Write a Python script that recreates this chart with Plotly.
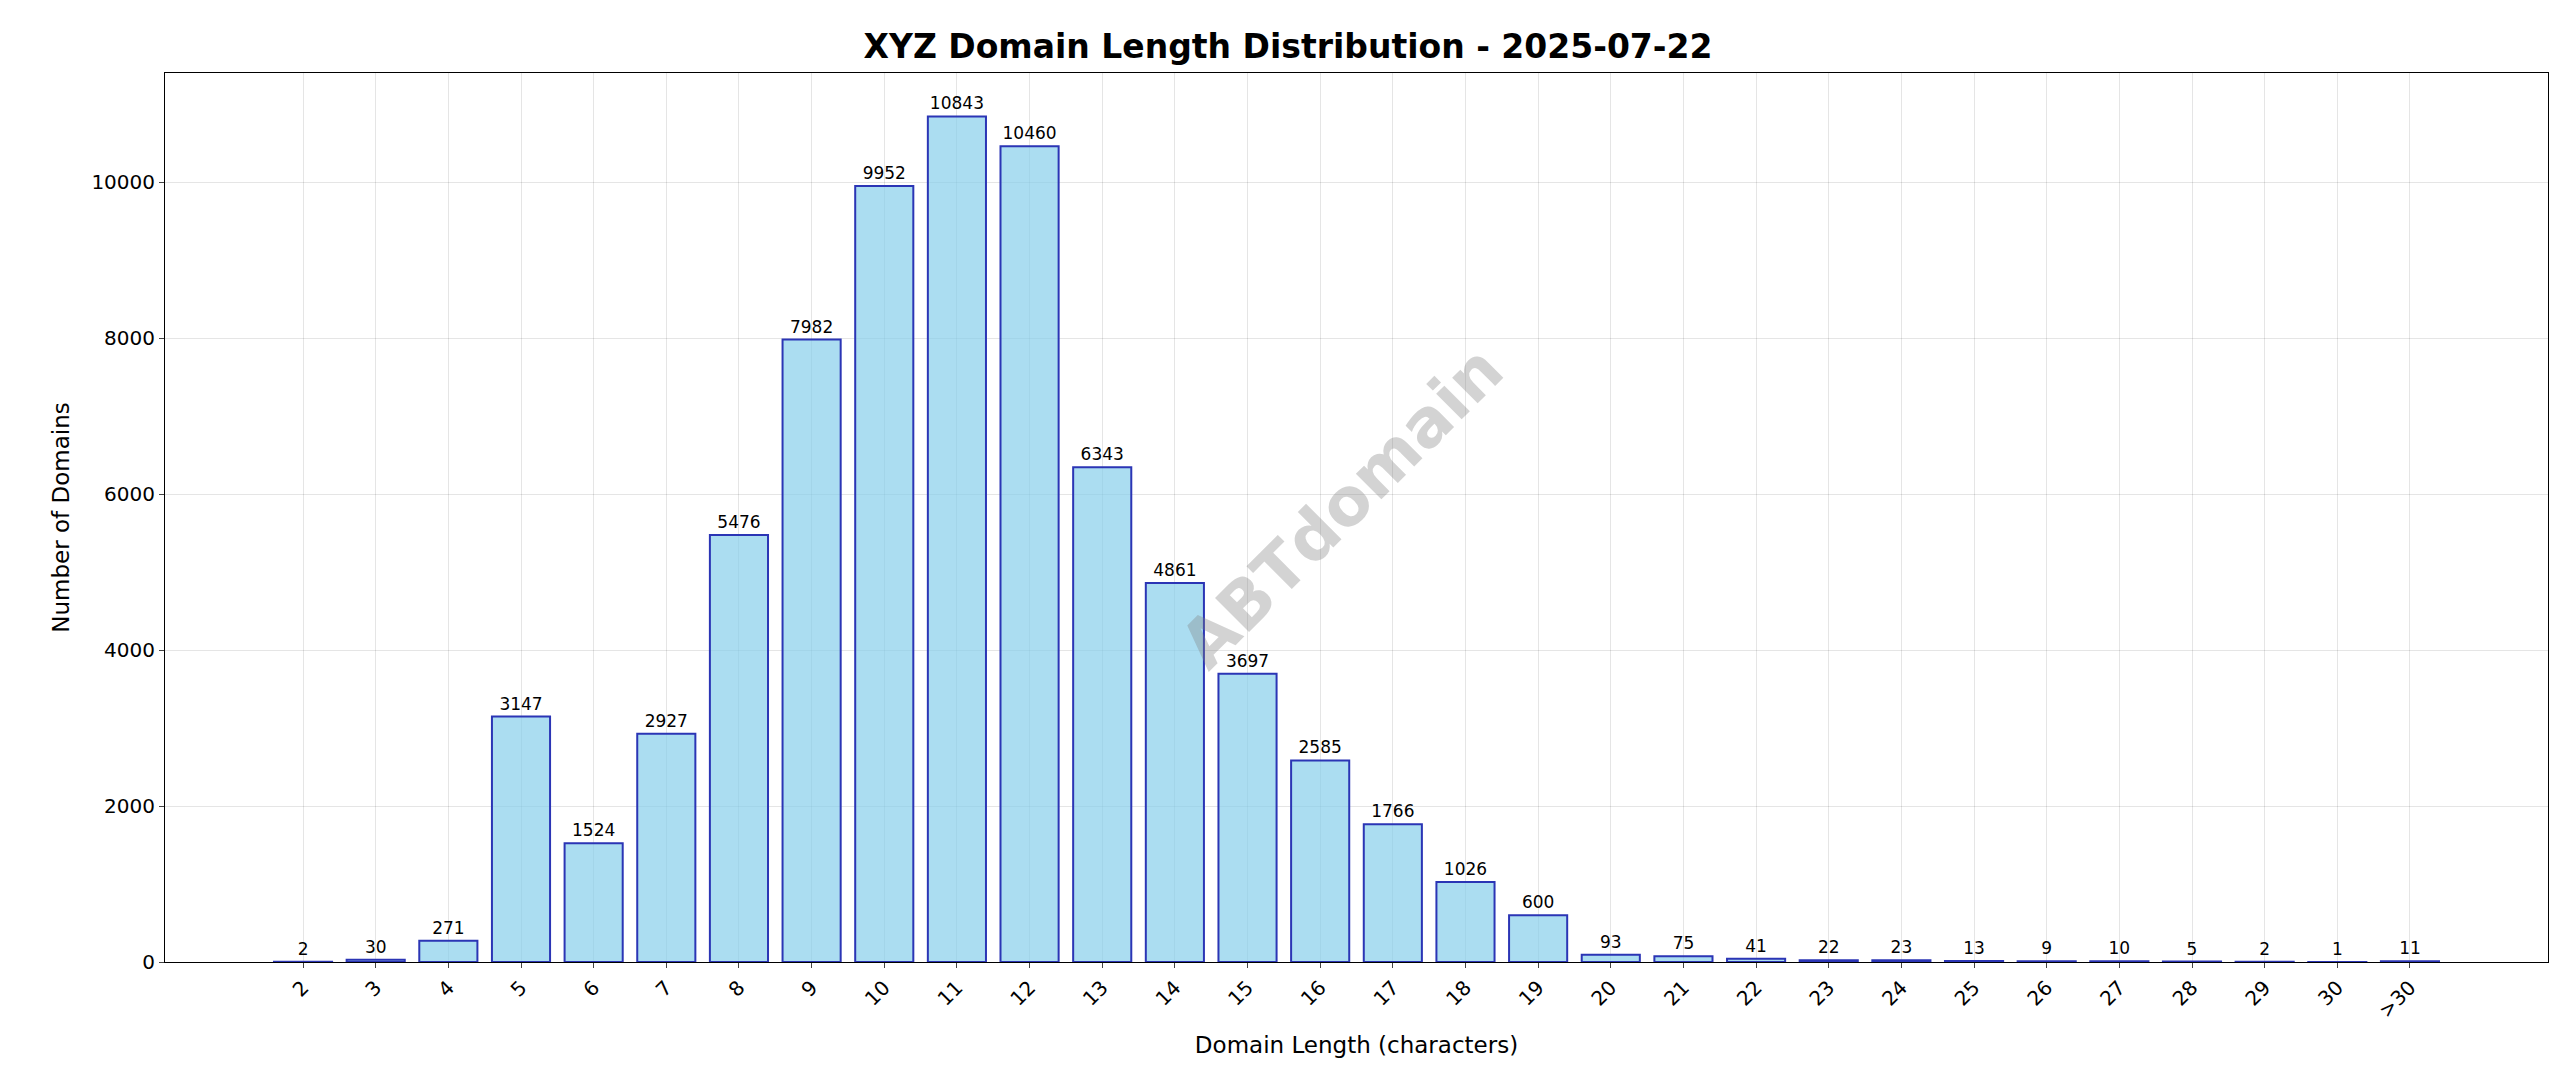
import plotly.graph_objects as go

categories = [str(i) for i in range(2, 31)] + [">30"]
counts = [2, 30, 271, 3147, 1524, 2927, 5476, 7982, 9952, 10843, 10460, 6343,
          4861, 3697, 2585, 1766, 1026, 600, 93, 75, 41, 22, 23, 13, 9, 10, 5, 2, 1, 11]

fig = go.Figure(go.Bar(
    x=categories, y=counts, width=0.8,
    marker=dict(color="rgba(135,206,235,0.7)", line=dict(color="#2b35b5", width=2)),
    text=[str(c) for c in counts], textposition="outside", constraintext="none",
    textfont=dict(size=17, color="black"), cliponaxis=False,
))

fig.add_annotation(text="<b>ABTdomain</b>", x=0.5, y=0.5, xref="paper", yref="paper",
                   showarrow=False, textangle=-45,
                   font=dict(size=66, color="rgba(128,128,128,0.35)", family="DejaVu Sans"),
                   xshift=-15, yshift=10)

fig.update_layout(
    width=2560, height=1087,
    paper_bgcolor="white", plot_bgcolor="white",
    font=dict(family="DejaVu Sans", size=20, color="black"),
    title=dict(text="<b>XYZ Domain Length Distribution - 2025-07-22</b>",
               x=0.5, xanchor="center", y=0.975, font=dict(size=33)),
    margin=dict(l=157, r=20, t=65, b=133),
    showlegend=False,
)
fig.update_xaxes(range=[-1.9, 30.9], tickangle=-45, showline=True, linecolor="black",
                 mirror=True, ticks="outside", showgrid=True, gridcolor="rgba(0,0,0,0.1)",
                 title=dict(text="Domain Length (characters)", font=dict(size=23)))
fig.update_yaxes(range=[0, 11400], showline=True, linecolor="black", mirror=True,
                 ticks="outside", showgrid=True, gridcolor="rgba(0,0,0,0.1)",
                 dtick=2000, zeroline=False, tickformat="d",
                 title=dict(text="Number of Domains", font=dict(size=23)))

fig.write_html("out.html")
